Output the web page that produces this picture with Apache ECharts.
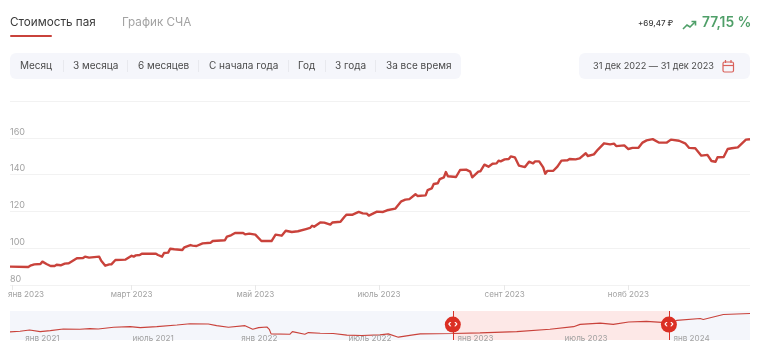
<!DOCTYPE html>
<html><head><meta charset="utf-8">
<style>html,body{margin:0;padding:0;background:#fff}#c{width:758px;height:364px}</style>
<script src="https://cdn.jsdelivr.net/npm/echarts@6/dist/echarts.min.js"></script>
</head><body><div id="c"></div>
<script>
// ---- data (days counted from 31 Dec 2022 for the main chart, from 13 Dec 2020 for the navigator) ----
const mainDays = [0,9,10,12,15,16,18,20,22,23,25,27,29,33,36,37,39,44,45,47,49,50,52,57,60,61,62,64,65,72,73,75,76,78,79,81,85,86,89,90,92,95,99,100,106,107,109,111,115,116,118,121,124,129,131,134,136,139,142,146,148,149,150,153,155,158,159,163,165,166,169,172,174,176,177,181,184,186,190,193,195,197,200,201,205,206,208,209,211,212,214,215,216,220,222,225,227,228,231,232,234,236,238,240,241,242,244,246,247,249,251,254,256,258,259,261,263,264,265,268,270,272,275,276,279,281,284,285,288,290,293,296,298,299,303,305,307,310,312,314,317,320,324,326,330,333,335,338,339,341,344,346,348,349,352,354,356,359,363,365];
const mainValues = [90,89.8,90.5,91.2,91.4,92.7,91.4,90.3,90.3,91,90.7,91.6,91.8,94.5,94.7,95.4,94.9,95.4,93.2,90.5,91.2,91.2,93.6,93.8,95.9,95.4,96.1,96.3,97,97,96.3,95.4,97.4,97.6,99.7,99.4,99,100.5,101.7,101.4,101.2,102.6,103,103.9,104.3,106.3,107,108.3,108.3,107.5,107.9,107.4,103.9,103.9,107.4,106.8,109.5,108.8,109.2,110.4,111,112.2,111.7,114,113.9,112.8,114,114.4,117.1,118.2,118.2,119.7,118.9,118.8,117.7,119.9,119.7,120.6,121.5,125.5,126.4,126.7,129.3,128.4,128.7,131.6,132.5,134.9,135.3,137.6,138.5,141.4,139.1,138.7,142.5,142.7,141.6,138.5,141.6,141.8,145.4,144.3,145.9,146.1,147.6,147.2,148.3,148.5,149.9,149.4,144.9,144.1,147,146.1,147.2,147.2,143.9,140.5,142,142.1,144.3,147.6,147.8,148.5,148.3,148.8,151.6,150.1,151,153.6,157,156.4,156.8,155.5,155.9,153.9,154.5,154.6,157.4,158.6,159.3,157.4,157.4,159,158.4,157,154.5,154.3,153,150.3,150.7,147.4,147,149.4,149.6,153.9,154.3,154.8,159,159.2];
const navDays = [0,17,33,51,68,90,118,135,149,175,203,220,248,282,304,335,349,369,397,410,420,434,438,441,473,477,498,504,524,546,569,594,625,639,656,681,693,748,794,856,912,952,963,997,1019,1045,1075,1101,1113,1126,1166,1171,1205,1250];
const navValues = [100.2,104.3,112.4,102.2,108.4,118.6,116.5,120.6,118.6,128.8,132.8,126.7,132.8,143,151.2,149.2,139,128.8,139,116.5,126.7,130.8,116.5,88,86,102.2,86,96,92,90,80,78,82,88,67.6,82,88,90,94,102,116.5,132.8,147,155,147,161.4,165.5,159.4,153,171.6,183.8,177.7,208,214.4];
const mainTickDays = [1,60,121,182,244,305];
const mainTickLabels = ['янв 2023','март 2023','май 2023','июль 2023','сент 2023','нояб 2023'];
const navTickDays = [19,200,384,565,749,930,1114];
const navTickLabels = ['янв 2021','июль 2021','янв 2022','июль 2022','янв 2023','июль 2023','янв 2024'];
const rangeStartDay = 748, rangeEndDay = 1113;
const periodLabels = ['Месяц','3 месяца','6 месяцев','С начала года','Год','3 года','За все время'];
const periodX = [20,73,138,209,298,335,386];
const dividerX = [63,127,198,288,325,375];

// ---- build ----
const FONT = 'Inter, "Open Sans", sans-serif';
const zip = (a,b) => a.map((d,i)=>[d,b[i]]);
const labelOf = (days,labels) => v => { const i = days.indexOf(v); return i<0?'':labels[i]; };
const RED='#c9423b', GREEN='#4f9f68';

const txt=(x,y,text,size,fill,weight,align)=>({type:'text',silent:true,x,y,style:{text,font:`${weight||400} ${size}px ${FONT}`,fill,textVerticalAlign:'middle',textAlign:align||'left'}});
const rr=(x,y,w,h,r,fill)=>({type:'rect',silent:true,z:-1,shape:{x,y,width:w,height:h,r},style:{fill}});
const ln=(x1,y1,x2,y2,stroke,w)=>({type:'line',silent:true,shape:{x1,y1,x2,y2},style:{stroke,lineWidth:w||1}});
const pl=(points,stroke,w)=>({type:'polyline',silent:true,shape:{points},style:{stroke,lineWidth:w,fill:null}});

const graphic=[
 txt(10,22,'Стоимость пая',11.7,'#3a3a3a',400),
 txt(122,22,'График СЧА',11.7,'#a3a3a3',400),
 rr(10,35,42,2,1,RED),
 rr(10,53,451,26,6,'#f5f6fb'),
 rr(579,53,171,26,6,'#f5f6fb'),
 ...periodLabels.map((t,i)=>txt(periodX[i],66,t,10,'#4a4a4a',400)),
 ...dividerX.map(x=>ln(x+.5,60,x+.5,72,'#e8e9ee',1)),
 txt(593,66,'31 дек 2022 — 31 дек 2023',9.2,'#4a4a4a',400),
 {type:'rect',silent:true,shape:{x:723,y:62,width:10.5,height:10,r:1.5},style:{stroke:'#d9605a',lineWidth:1.2,fill:null}},
 ln(723,65.5,733.5,65.5,'#d9605a',1.2),
 ln(725.5,60,725.5,63,'#d9605a',1.2),
 ln(731,60,731,63,'#d9605a',1.2),
 txt(638,24,'+69,47 ₽',8,'#3c3c3c',500),
 pl([[683,29],[687,25],[690,27],[695.5,21.5]],GREEN,1.6),
 pl([[691.5,21.5],[695.5,21.5],[695.5,25.5]],GREEN,1.6),
 txt(702,23,'77,15 %',13.8,GREEN,600)
];

const mainTickFormatter = v => {
  const i = mainTickDays.indexOf(v);
  if (i < 0) return '';
  return i === 0 ? '{first|' + mainTickLabels[0] + '}' : mainTickLabels[i];
};

const option={
 animation:false,
 backgroundColor:'#fff',
 graphic,
 grid:[
  {left:10,right:8,top:101,height:184,outerBoundsMode:'none'},
  {left:10,right:8,top:311,height:29,show:true,backgroundColor:'#f4f6fb',borderWidth:0,outerBoundsMode:'none'}
 ],
 xAxis:[
  {type:'value',gridIndex:0,min:0,max:365,
   axisLine:{show:false},splitLine:{show:false},
   axisTick:{show:true,length:5,lineStyle:{color:'#e8e8e8'},customValues:mainTickDays},
   axisLabel:{fontFamily:FONT,fontSize:8.1,color:'#a2a2a2',margin:6,hideOverlap:false,
     customValues:mainTickDays,formatter:mainTickFormatter,
     rich:{first:{fontFamily:FONT,fontSize:8.1,color:'#a2a2a2',padding:[0,0,0,28]}}}},
  {type:'value',gridIndex:1,min:0,max:1250,z:4,
   axisLine:{show:false},axisTick:{show:false},splitLine:{show:false},
   axisLabel:{fontFamily:FONT,fontSize:8.1,color:'#a2a2a2',inside:true,align:'left',margin:-3,hideOverlap:false,padding:[0,0,0,4],
     customValues:navTickDays,formatter:labelOf(navTickDays,navTickLabels)}}
 ],
 yAxis:[
  {type:'value',gridIndex:0,min:80,max:180,interval:20,
   axisLine:{show:false},axisTick:{show:false},
   splitLine:{show:true,lineStyle:{color:'#f2f2f2',width:1}},
   axisLabel:{inside:true,fontFamily:FONT,fontSize:9,color:'#a2a2a2',margin:0,verticalAlign:'bottom',lineHeight:12,
     formatter:v=>v===180?'':String(v)}},
  {type:'value',gridIndex:1,min:50,max:230,show:false}
 ],
 series:[
  {type:'line',xAxisIndex:0,yAxisIndex:0,data:zip(mainDays,mainValues),showSymbol:false,symbol:'none',
   lineStyle:{color:RED,width:2.4,join:'round'}},
  {type:'line',xAxisIndex:1,yAxisIndex:1,data:zip(navDays,navValues),showSymbol:false,symbol:'none',z:3,
   lineStyle:{color:RED,width:1.1},
   markArea:{silent:true,z:1,itemStyle:{color:'#fde8e7'},data:[[{xAxis:rangeStartDay},{xAxis:rangeEndDay}]]},
   markLine:{silent:true,symbol:'none',z:5,label:{show:false},lineStyle:{color:'#d8342a',width:1,type:'solid'},
     data:[{xAxis:rangeStartDay},{xAxis:rangeEndDay}]},
   markPoint:{silent:true,z:6,symbol:'circle',symbolSize:16,itemStyle:{color:'#db2f24'},
     label:{show:true,position:'inside',formatter:'‹ ›',color:'#fff',fontSize:9,fontWeight:700,fontFamily:FONT},
     data:[{coord:[rangeStartDay,146]},{coord:[rangeEndDay,146]}]}}
 ]
};
const chart=echarts.init(document.getElementById('c'));
chart.setOption(option);
</script></body></html>
